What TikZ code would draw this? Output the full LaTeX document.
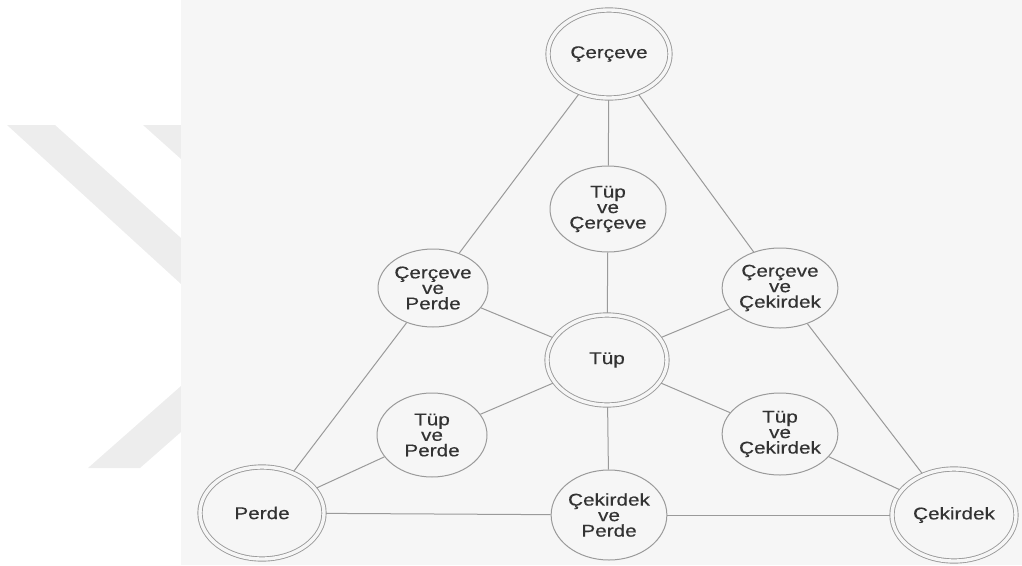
\documentclass[tikz,border=0pt]{standalone}
\usepackage{fontspec}
\setmainfont{Liberation Sans}[FakeStretch=1.22,FakeBold=0.4]
\usetikzlibrary{shapes.geometric}
\definecolor{zemin}{HTML}{F6F6F6}
\definecolor{filigran}{HTML}{EDEDED}
\definecolor{cizgi}{HTML}{9A9A9A}
\definecolor{yazi}{HTML}{333333}
\tikzset{yazi/.style={font=\fontsize{17}{15.5}\selectfont,text=yazi,align=center,inner sep=0pt}}
\tikzset{kose/.style={yazi,shape=ellipse,draw=cizgi,line width=0.9pt,double=zemin,double distance=3.4pt,outer sep=2.1pt}}
\tikzset{ara/.style={yazi,shape=ellipse,draw=cizgi,line width=1pt}}
\tikzset{bag/.style={draw=cizgi,line width=1pt}}

\begin{document}
\begin{tikzpicture}[x=1pt,y=-1pt]
\useasboundingbox (0,0) rectangle (1022,565);
% filigran ve zemin
\fill[filigran] (7,125)--(55,125)--(181,238)--(181,284)--cycle;
\fill[filigran] (143,125)--(181,125)--(181,159)--cycle;
\fill[filigran] (88,468)--(140,468)--(181,432)--(181,386)--cycle;
\fill[zemin] (181,0) rectangle (1022,565);

\node(Cer) at (609,54) [kose,minimum width=122pt,minimum height=88pt] {Çerçeve};
\node(Tup) at (607,360) [kose,minimum width=120pt,minimum height=90pt] {Tüp};
\node(Per) at (262,513) [kose,minimum width=124pt,minimum height=92pt] {Perde};
\node(Cek) at (954,515) [kose,minimum width=124pt,minimum height=92pt] {Çekirdek};

\node(TupCer) at (608,209) [ara,minimum width=116pt,minimum height=86pt] {Tüp\\ve\\Çerçeve};
\node(CerPer) at (433,288) [ara,minimum width=110pt,minimum height=78pt] {Çerçeve\\ve\\Perde};
\node(CerCek) at (780,288) [ara,minimum width=110pt,minimum height=80pt] {Çerçeve\\ve\\Çekirdek};
\node(TupPer) at (432,435) [ara,minimum width=110pt,minimum height=84pt] {Tüp\\ve\\Perde};
\node(TupCek) at (780,434) [ara,minimum width=114pt,minimum height=82pt] {Tüp\\ve\\Çekirdek};
\node(CekPer) at (609,515) [ara,minimum width=114pt,minimum height=90pt] {Çekirdek\\ve\\Perde};

\draw[bag] (Cer)--(TupCer);
\draw[bag] (TupCer)--(Tup);
\draw[bag] (Cer)--(CerPer);
\draw[bag] (Cer)--(CerCek);
\draw[bag] (CerPer)--(Per);
\draw[bag] (CerCek)--(Cek);
\draw[bag] (CerPer)--(Tup);
\draw[bag] (CerCek)--(Tup);
\draw[bag] (Tup)--(TupPer);
\draw[bag] (Tup)--(TupCek);
\draw[bag] (Tup)--(CekPer);
\draw[bag] (TupPer)--(Per);
\draw[bag] (TupCek)--(Cek);
\draw[bag] (Per)--(CekPer);
\draw[bag] (CekPer)--(Cek);
\end{tikzpicture}
\end{document}
